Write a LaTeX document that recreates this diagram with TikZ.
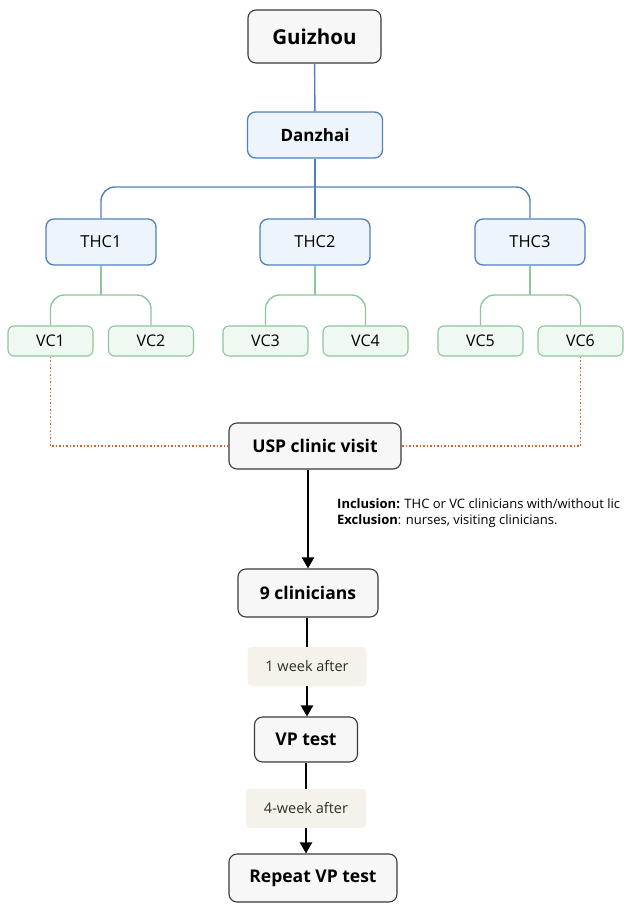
\documentclass[tikz,border=0pt]{standalone}
\usepackage{fontspec}
\setmainfont{Open Sans}
\usetikzlibrary{arrows.meta}
\definecolor{grayfill}{HTML}{F7F7F7}
\definecolor{grayline}{HTML}{3A3A3A}
\definecolor{bluefill}{HTML}{EEF4FB}
\definecolor{blueline}{HTML}{4F80BD}
\definecolor{greenfill}{HTML}{EFF8F1}
\definecolor{greenline}{HTML}{8CC69A}
\definecolor{orangeline}{HTML}{D2642A}
\definecolor{labelfill}{HTML}{F4F2EA}
\definecolor{labeltext}{HTML}{2F3022}
\tikzset{
  graybox/.style={draw=grayline, fill=grayfill, line width=1.1pt, rounded corners=8pt, inner sep=0pt, align=center, font=\bfseries\fontsize{17.5}{21}\selectfont},
  bluebox/.style={draw=blueline, fill=bluefill, line width=1.3pt, rounded corners=8pt, inner sep=0pt, minimum height=46pt, align=center, font=\fontsize{16.5}{19}\selectfont},
  greenbox/.style={draw=greenline, fill=greenfill, line width=1.1pt, rounded corners=6pt, inner sep=0pt, minimum width=85pt, minimum height=30pt, font=\fontsize{16}{19}\selectfont},
  lbl/.style={fill=labelfill, rounded corners=4pt, inner sep=0pt, minimum width=119pt, minimum height=39pt, text=labeltext, font=\fontsize{14.5}{17}\selectfont},
  blueconn/.style={draw=blueline, line width=1.4pt},
  greenconn/.style={draw=greenline, line width=1.4pt},
  dotconn/.style={draw=orangeline, line width=1.5pt, dotted},
  blackconn/.style={draw=black, line width=2pt},
  blackarrow/.style={blackconn, -{Triangle[width=12pt,length=11pt]}}
}
\begin{document}
\begin{tikzpicture}[x=1pt,y=-1pt]
\useasboundingbox (0,0) rectangle (629,910);
% top tree
\node[graybox, minimum width=133pt, minimum height=53pt, font=\bfseries\fontsize{20.5}{24}\selectfont] (gz) at (314.5,36.5) {Guizhou};
\node[bluebox, minimum width=135pt, font=\bfseries\fontsize{17}{20}\selectfont] (dz) at (315,135) {Danzhai};
\node[bluebox, minimum width=110pt] (thc1) at (101,242) {THC1};
\node[bluebox, minimum width=110pt] (thc2) at (315,242) {THC2};
\node[bluebox, minimum width=110pt] (thc3) at (530,242) {THC3};
\node[greenbox] (vc1) at (50.5,341) {VC1};
\node[greenbox] (vc2) at (151,341) {VC2};
\node[greenbox] (vc3) at (265.5,341) {VC3};
\node[greenbox] (vc4) at (365.5,341) {VC4};
\node[greenbox] (vc5) at (480.5,341) {VC5};
\node[greenbox] (vc6) at (580.5,341) {VC6};
% flow
\node[graybox, minimum width=172pt, minimum height=46pt] (usp) at (315,446) {USP clinic visit};
\node[graybox, minimum width=140pt, minimum height=48pt] (nine) at (308,593) {9 clinicians};
\node[lbl] (l1) at (307,666.5) {1 week after};
\node[graybox, minimum width=103pt, minimum height=45pt] (vp) at (306,739.5) {VP test};
\node[lbl, minimum width=120pt] (l2) at (306,808.5) {4-week after};
\node[graybox, minimum width=168pt, minimum height=48pt] (rep) at (313,878) {Repeat VP test};
\node[anchor=west, align=left, inner sep=0pt, font=\fontsize{13}{16}\selectfont] (incl) at (337,513)
  {\textbf{Inclusion:} THC or VC clinicians with/without lic\\\textbf{Exclusion}: nurses, visiting clinicians.};
% connector hubs
\coordinate (hb) at (315,187);
\coordinate (g1) at (101,295);
\coordinate (g2) at (315,295);
\coordinate (g3) at (530,295);
% blue connectors
\draw[blueconn] (gz) -- (dz);
\draw[blueconn] (dz) -- (thc2);
\draw[blueconn, rounded corners=14pt] (thc1.north) |- (hb) -| (thc3.north);
% green connectors
\draw[greenconn] (thc1) -- (g1);
\draw[greenconn] (thc2) -- (g2);
\draw[greenconn] (thc3) -- (g3);
\draw[greenconn, rounded corners=14pt] (vc1.north) |- (g1) -| (vc2.north);
\draw[greenconn, rounded corners=14pt] (vc3.north) |- (g2) -| (vc4.north);
\draw[greenconn, rounded corners=14pt] (vc5.north) |- (g3) -| (vc6.north);
% dotted orange
\draw[dotconn] (vc1.south) |- (usp.west);
\draw[dotconn] (vc6.south) |- (usp.east);
% black flow
\draw[blackarrow] (nine.north |- usp.south) -- (nine.north);
\draw[blackconn] (nine.south -| l1.north) -- (l1.north);
\draw[blackarrow] (l1.south) -- (l1.south |- vp.north);
\draw[blackconn] (vp.south) -- (l2.north);
\draw[blackarrow] (l2.south) -- (l2.south |- rep.north);
\end{tikzpicture}
\end{document}
